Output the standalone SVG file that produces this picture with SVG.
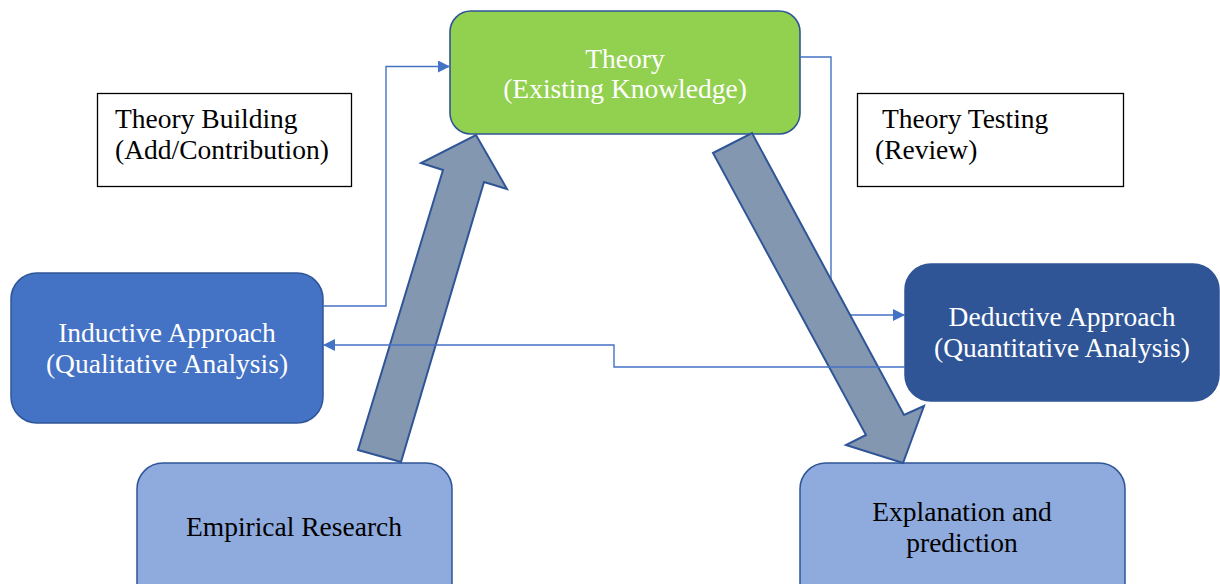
<svg xmlns="http://www.w3.org/2000/svg" width="1220" height="584" viewBox="0 0 1220 584">
  <style>
    .lbl { font-family: "Liberation Serif", "Times New Roman", serif; font-size: 27.5px; }
    .white { fill: #ffffff; }
    .dark { fill: #000000; }
    .note { fill: #ffffff; stroke: #000000; stroke-width: 1.3; }
    .link { fill: none; stroke: #4472c4; stroke-width: 1.4; }
    .big { fill: #8497b0; stroke: #2f5597; stroke-width: 2; stroke-linejoin: miter; }
  </style>
  <defs>
    <marker id="head" viewBox="0 0 12 12" refX="12" refY="6" markerWidth="12" markerHeight="12" markerUnits="userSpaceOnUse" orient="auto">
      <path d="M0,0 L12,6 L0,12 Z" fill="#4472c4"/>
    </marker>
  </defs>

  <rect width="1220" height="584" fill="#ffffff"/>

  <!-- annotation boxes -->
  <g id="theory-building">
    <rect class="note" x="97.5" y="93.5" width="254" height="93"/>
    <text class="lbl dark" x="115" y="128">Theory Building</text>
    <text class="lbl dark" x="115" y="159">(Add/Contribution)</text>
  </g>
  <g id="theory-testing">
    <rect class="note" x="857.5" y="93.5" width="266" height="93"/>
    <text class="lbl dark" x="882" y="128">Theory Testing</text>
    <text class="lbl dark" x="875" y="159">(Review)</text>
  </g>

  <!-- nodes -->
  <g id="theory">
    <rect x="450" y="11" width="350" height="123" rx="21" fill="#92d050" stroke="#2f5597" stroke-width="1.6"/>
    <text class="lbl white" x="625" y="68" text-anchor="middle">Theory</text>
    <text class="lbl white" x="625" y="98" text-anchor="middle">(Existing Knowledge)</text>
  </g>
  <g id="inductive">
    <rect x="11" y="273" width="312" height="150" rx="26" fill="#4472c4" stroke="#2f5597" stroke-width="1.5"/>
    <text class="lbl white" x="167" y="342" text-anchor="middle">Inductive Approach</text>
    <text class="lbl white" x="167" y="373" text-anchor="middle">(Qualitative Analysis)</text>
  </g>
  <g id="deductive">
    <rect x="905" y="264" width="314" height="137" rx="26" fill="#2f5597" stroke="#2f5597" stroke-width="1.5"/>
    <text class="lbl white" x="1062" y="326" text-anchor="middle">Deductive Approach</text>
    <text class="lbl white" x="1062" y="357" text-anchor="middle">(Quantitative Analysis)</text>
  </g>
  <g id="empirical">
    <rect x="137" y="463" width="315" height="150" rx="26" fill="#8faadc" stroke="#2f5597" stroke-width="1.5"/>
    <text class="lbl dark" x="294" y="536" text-anchor="middle">Empirical Research</text>
  </g>
  <g id="explanation">
    <rect x="800" y="463" width="325" height="150" rx="26" fill="#8faadc" stroke="#2f5597" stroke-width="1.5"/>
    <text class="lbl dark" x="962" y="521" text-anchor="middle">Explanation and</text>
    <text class="lbl dark" x="962" y="552" text-anchor="middle">prediction</text>
  </g>

  <!-- connectors -->
  <g id="connectors">
    <!-- theory to deductive (runs beneath the downward block arrow) -->
    <path class="link" d="M800,57 H831 V315 H905" marker-end="url(#head)"/>
    <!-- empirical research up to theory -->
    <polygon class="big" points="358,450 443,170 421,163 476,135 507,189 484,182 401,462"/>
    <!-- theory down to explanation -->
    <polygon class="big" points="713,153 752,133 904,415 924,406 903,463 846,445 866,435"/>
    <!-- inductive to theory -->
    <path class="link" d="M323,306 H386 V66.5 H450" marker-end="url(#head)"/>
    <!-- deductive back to inductive -->
    <path class="link" d="M905,367 H614 V345 H323" marker-end="url(#head)"/>
  </g>
</svg>
